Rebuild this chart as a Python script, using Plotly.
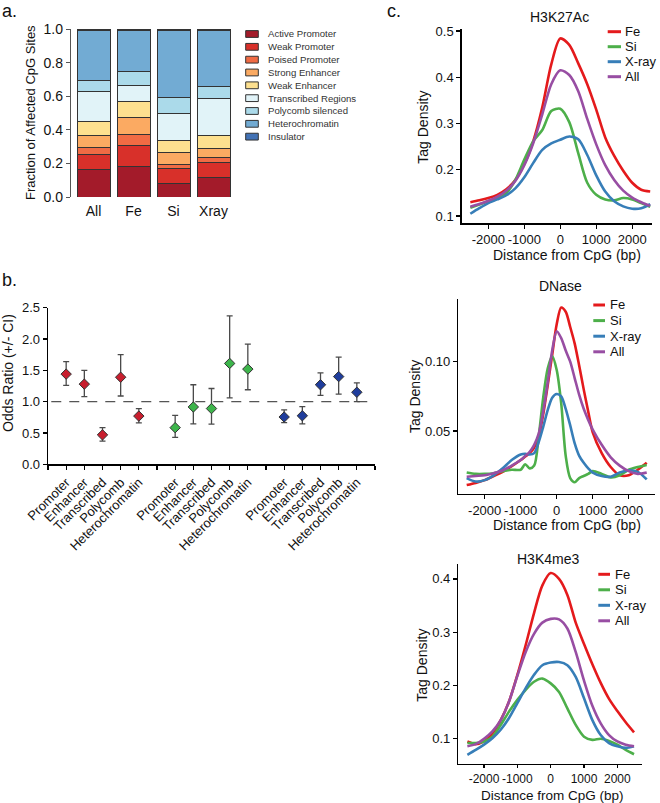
import plotly.graph_objects as go

W, H = 660, 803
FONT = "Liberation Sans, Arial, Helvetica, sans-serif"


def px(x):
    return x / W


def py(y):
    return 1 - y / H


# ---------------- Panel a data ----------------
groups_a = ["All", "Fe", "Si", "Xray"]
states = ["Active Promoter", "Weak Promoter", "Poised Promoter", "Strong Enhancer",
          "Weak Enhancer", "Transcribed Regions", "Polycomb silenced",
          "Heterochromatin", "Insulator"]
state_colors = ["#A31B2A", "#D8302A", "#F06B44", "#FBAA62", "#FDE08F",
                "#E1F3F8", "#ABDAEA", "#72ABD3", "#4272B5"]
frac_active_promoter = [0.164, 0.182, 0.078, 0.116]
frac_weak_promoter = [0.090, 0.124, 0.090, 0.090]
frac_poised_promoter = [0.042, 0.068, 0.026, 0.030]
frac_strong_enhancer = [0.072, 0.098, 0.068, 0.054]
frac_weak_enhancer = [0.084, 0.094, 0.074, 0.076]
frac_transcribed = [0.174, 0.096, 0.164, 0.218]
frac_polycomb = [0.068, 0.084, 0.094, 0.074]
frac_heterochromatin = [0.296, 0.244, 0.396, 0.336]
frac_insulator = [0.010, 0.010, 0.010, 0.006]
state_values = [frac_active_promoter, frac_weak_promoter, frac_poised_promoter,
                frac_strong_enhancer, frac_weak_enhancer, frac_transcribed,
                frac_polycomb, frac_heterochromatin, frac_insulator]
ticks_a = [0.0, 0.2, 0.4, 0.6, 0.8, 1.0]

# ---------------- Panel b data ----------------
groups_b = ["Fe", "Si", "X-ray"]
group_colors_b = ["#C81E2E", "#3DB54B", "#1F3D9C"]
categories_b = ["Promoter", "Enhancer", "Transcribed", "Polycomb", "Heterochromatin"]
fe_or = [1.44, 1.28, 0.47, 1.39, 0.77]
fe_lo = [1.26, 1.08, 0.37, 1.09, 0.66]
fe_hi = [1.64, 1.50, 0.585, 1.75, 0.89]
si_or = [0.585, 0.915, 0.89, 1.61, 1.52]
si_lo = [0.43, 0.645, 0.64, 1.06, 1.19]
si_hi = [0.78, 1.27, 1.21, 2.37, 1.92]
xr_or = [0.755, 0.775, 1.27, 1.40, 1.15]
xr_lo = [0.665, 0.645, 1.10, 1.12, 1.00]
xr_hi = [0.87, 0.92, 1.46, 1.71, 1.30]
or_values = [fe_or, si_or, xr_or]
or_lows = [fe_lo, si_lo, xr_lo]
or_highs = [fe_hi, si_hi, xr_hi]
reference_or = 1.0
ticks_b = [0.0, 0.5, 1.0, 1.5, 2.0, 2.5]

# ---------------- Panel c data ----------------
series_c = ["Fe", "Si", "X-ray", "All"]
series_colors_c = ["#E41A1C", "#4DAF4A", "#377EB8", "#984EA3"]
dist_tick_vals = [-2000, -1000, 0, 1000, 2000]
dist_tick_text = ["-2000", "-1000", "0", "1000", "2000"]

dist_h3k27ac = [-2500, -2250, -2000, -1750, -1500, -1250, -1000, -750, -500, -250, 0,
                250, 500, 750, 1000, 1250, 1500, 1750, 2000, 2250, 2500]
h3k27ac_fe = [0.130, 0.134, 0.139, 0.146, 0.158, 0.178, 0.212, 0.262, 0.335, 0.428, 0.484,
              0.470, 0.430, 0.385, 0.330, 0.270, 0.230, 0.198, 0.172, 0.157, 0.153]
h3k27ac_si = [0.118, 0.125, 0.132, 0.138, 0.150, 0.178, 0.222, 0.262, 0.286, 0.327, 0.332,
              0.303, 0.236, 0.172, 0.146, 0.136, 0.134, 0.139, 0.136, 0.128, 0.120]
h3k27ac_xray = [0.105, 0.117, 0.128, 0.136, 0.145, 0.160, 0.184, 0.215, 0.243, 0.257, 0.265,
                0.272, 0.266, 0.232, 0.188, 0.153, 0.132, 0.121, 0.116, 0.117, 0.126]
h3k27ac_all = [0.120, 0.126, 0.133, 0.142, 0.155, 0.176, 0.210, 0.258, 0.320, 0.385, 0.415,
               0.405, 0.370, 0.310, 0.255, 0.210, 0.178, 0.155, 0.140, 0.130, 0.122]
h3k27ac_ticks = [0.1, 0.2, 0.3, 0.4, 0.5]

dist_dnase = [-2500, -2250, -2000, -1750, -1500, -1250, -1000, -875, -750, -625, -500,
              -375, -250, -125, 0, 125, 250, 375, 500, 625, 750, 875, 1000, 1250, 1500,
              1750, 2000, 2250, 2500]
dnase_fe = [0.011, 0.0125, 0.0145, 0.0175, 0.0205, 0.0245, 0.029, 0.0315, 0.034, 0.038, 0.046,
            0.062, 0.083, 0.105, 0.127, 0.139, 0.136, 0.125, 0.113, 0.097, 0.080, 0.064, 0.049,
            0.034, 0.024, 0.018, 0.018, 0.022, 0.027]
dnase_si = [0.020, 0.019, 0.019, 0.0195, 0.021, 0.022, 0.022, 0.026, 0.023, 0.025, 0.046,
            0.074, 0.095, 0.104, 0.094, 0.070, 0.032, 0.016, 0.013, 0.016, 0.0175, 0.019, 0.021,
            0.019, 0.0165, 0.018, 0.022, 0.024, 0.0255]
dnase_xray = [0.016, 0.0135, 0.0145, 0.018, 0.023, 0.029, 0.033, 0.0335, 0.033, 0.034, 0.042,
              0.053, 0.065, 0.074, 0.0767, 0.075, 0.066, 0.054, 0.041, 0.032, 0.027, 0.023, 0.020,
              0.0175, 0.017, 0.020, 0.0215, 0.0205, 0.015]
dnase_all = [0.017, 0.0175, 0.018, 0.0195, 0.0215, 0.025, 0.029, 0.032, 0.035, 0.040, 0.048,
             0.064, 0.085, 0.108, 0.122, 0.117, 0.108, 0.100, 0.088, 0.076, 0.066, 0.058, 0.051,
             0.040, 0.031, 0.025, 0.021, 0.019, 0.020]
dnase_ticks = [0.05, 0.10]

dist_h3k4me3 = [-2500, -2250, -2000, -1750, -1500, -1250, -1000, -750, -500, -250, 0,
                250, 500, 750, 1000, 1250, 1500, 1750, 2000, 2250, 2500]
h3k4me3_fe = [0.095, 0.090, 0.095, 0.110, 0.135, 0.170, 0.220, 0.276, 0.336, 0.388, 0.411,
              0.400, 0.370, 0.318, 0.278, 0.240, 0.205, 0.175, 0.152, 0.131, 0.112]
h3k4me3_si = [0.092, 0.092, 0.095, 0.104, 0.126, 0.151, 0.173, 0.192, 0.207, 0.213, 0.204,
              0.188, 0.157, 0.126, 0.104, 0.098, 0.100, 0.096, 0.089, 0.079, 0.071]
h3k4me3_xray = [0.070, 0.079, 0.089, 0.101, 0.117, 0.139, 0.167, 0.195, 0.220, 0.238, 0.243,
                0.244, 0.238, 0.216, 0.176, 0.135, 0.107, 0.092, 0.086, 0.083, 0.086]
h3k4me3_all = [0.086, 0.090, 0.100, 0.114, 0.135, 0.170, 0.218, 0.263, 0.297, 0.318, 0.325,
               0.324, 0.307, 0.263, 0.209, 0.162, 0.129, 0.107, 0.095, 0.089, 0.086]
h3k4me3_ticks = [0.1, 0.2, 0.3, 0.4]

fig = go.Figure()

# ---------------- Panel a: stacked bars ----------------
for name, color, vals in zip(states, state_colors, state_values):
    fig.add_trace(go.Bar(
        x=groups_a, y=vals, name=name, showlegend=False,
        marker=dict(color=color, line=dict(color="#333333", width=1)),
        xaxis="x", yaxis="y"))

# ---------------- Panel b: odds ratios ----------------
ticktext_b = []
for g in range(len(groups_b)):
    ticktext_b.append("")
    for c in categories_b:
        ticktext_b.append(c)
ticktext_b.append("")
xpos_b_all = list(range(len(ticktext_b)))

for g, (gname, gcol) in enumerate(zip(groups_b, group_colors_b)):
    xs = [g * (len(categories_b) + 1) + 1 + i for i in range(len(categories_b))]
    vals = or_values[g]
    fig.add_trace(go.Scatter(
        x=xs, y=vals, mode="markers", showlegend=False, name=gname,
        marker=dict(symbol="diamond", size=8, color=gcol, line=dict(color="#333333", width=1)),
        error_y=dict(type="data", symmetric=False,
                     array=[h - v for h, v in zip(or_highs[g], vals)],
                     arrayminus=[v - l for l, v in zip(or_lows[g], vals)],
                     color="#4a4a4a", thickness=1.3, width=3),
        xaxis="x2", yaxis="y2", cliponaxis=False))

# ---------------- Panel c: tag density ----------------
panel_c = [
    ("x3", "y3", dist_h3k27ac, [h3k27ac_fe, h3k27ac_si, h3k27ac_xray, h3k27ac_all]),
    ("x4", "y4", dist_dnase, [dnase_fe, dnase_si, dnase_xray, dnase_all]),
    ("x5", "y5", dist_h3k4me3, [h3k4me3_fe, h3k4me3_si, h3k4me3_xray, h3k4me3_all]),
]
for xa, ya, xs, ser in panel_c:
    for name, col, ys in zip(series_c, series_colors_c, ser):
        fig.add_trace(go.Scatter(
            x=xs, y=ys, mode="lines", name=name, showlegend=False,
            line=dict(color=col, width=2.6, shape="spline", smoothing=0.8),
            xaxis=xa, yaxis=ya))

axis_common = dict(showgrid=False, zeroline=False, showline=True, linecolor="#000000",
                   linewidth=1.4, ticks="outside", tickcolor="#000000", ticklen=4,
                   tickwidth=1.2, automargin=False)
f13 = dict(size=13, color="#111111")
f12 = dict(size=12, color="#111111")

layout = dict(
    template="none",
    width=W, height=H, margin=dict(l=0, r=0, t=0, b=0, pad=0, autoexpand=False),
    paper_bgcolor="white", plot_bgcolor="white",
    font=dict(family=FONT, color="#111111"),
    barmode="stack", bargap=0.175, showlegend=False,
    xaxis=dict(domain=[px(71), px(238)], range=[-0.5625, 3.6125], anchor="y",
               showgrid=False, zeroline=False, showline=False, ticks="", automargin=False,
               tickfont=dict(size=14, color="#111111"), ticklabelstandoff=4),
    yaxis=dict(domain=[py(197), py(29)], range=[0, 1], anchor="x", automargin=False,
               showgrid=False, zeroline=False, showline=True, linecolor="#555555",
               linewidth=1.2, ticks="outside", ticklen=4, tickcolor="#555555",
               tickvals=ticks_a, tickformat=".1f", tickfont=dict(size=14, color="#111111")),
    xaxis2=dict(domain=[px(48), px(375)], range=[0, len(ticktext_b) - 1], anchor="y2",
                tickmode="array", tickvals=xpos_b_all, ticktext=ticktext_b, tickangle=-45,
                tickfont=f13, **axis_common),
    yaxis2=dict(domain=[py(464.3), py(307.7)], range=[0, 2.5], anchor="x2",
                tickvals=ticks_b, tickformat=".1f", tickfont=f13, **axis_common),
    xaxis3=dict(domain=[px(461.7), px(652)], range=[-2740, 2550], anchor="y3",
                tickmode="array", tickvals=dist_tick_vals, ticktext=dist_tick_text,
                tickangle=0, tickfont=f13, **axis_common),
    yaxis3=dict(domain=[py(223.3), py(29.3)], range=[0.0844, 0.5037], anchor="x3",
                tickvals=h3k27ac_ticks, tickformat=".1f", tickfont=f13, **axis_common),
    xaxis4=dict(domain=[px(458.3), px(655)], range=[-2733, 2730], anchor="y4",
                tickmode="array", tickvals=dist_tick_vals, ticktext=dist_tick_text,
                tickangle=0, tickfont=f13, **axis_common),
    yaxis4=dict(domain=[py(494), py(299.3)], range=[0.0045, 0.145], anchor="x4",
                tickvals=dnase_ticks, tickformat=".2f", tickfont=f13, **axis_common),
    xaxis5=dict(domain=[px(458.3), px(641.7)], range=[-2772, 2730], anchor="y5",
                tickmode="array", tickvals=dist_tick_vals, ticktext=dist_tick_text,
                tickangle=0, tickfont=f12, **{**axis_common, "ticklen": 3}),
    yaxis5=dict(domain=[py(764), py(564)], range=[0.0527, 0.428], anchor="x5",
                tickvals=h3k4me3_ticks, tickformat=".1f", tickfont=f13, **axis_common),
)
fig.update_layout(**layout)

shapes = []
annotations = []

# Reference line OR = 1
shapes.append(dict(type="line", xref="x2 domain", yref="y2", x0=0.01, x1=0.99,
                   y0=reference_or, y1=reference_or,
                   line=dict(color="#555555", width=1.4, dash="10px,8px"), layer="below"))

# Panel a legend
leg_a_top, leg_a_step = 34, 12.83
for i, (name, col) in enumerate(zip(states, state_colors)):
    yc = leg_a_top + i * leg_a_step
    shapes.append(dict(type="rect", xref="paper", yref="paper",
                       x0=px(245.7), x1=px(258.3), y0=py(yc + 3.4), y1=py(yc - 3.4),
                       fillcolor=col, line=dict(color="#333333", width=1)))
    annotations.append(dict(text=name, xref="paper", yref="paper", x=px(266), y=py(yc),
                            xanchor="left", yanchor="middle", showarrow=False,
                            font=dict(size=9.6, color="#333333")))

# Panel c legends
legend_c_pos = [  # (line x0, line x1, text x, first row y, row step)
    (607.7, 621, 623, 31.7, 15.0),
    (593.3, 605, 608, 305, 15.6),
    (598.3, 610, 613, 574.3, 15.5),
]
for lx0, lx1, tx, ry, rs in legend_c_pos:
    for i, (name, col) in enumerate(zip(series_c, series_colors_c)):
        yc = ry + i * rs
        shapes.append(dict(type="line", xref="paper", yref="paper", x0=px(lx0), x1=px(lx1),
                           y0=py(yc), y1=py(yc), line=dict(color=col, width=3)))
        annotations.append(dict(text=name, xref="paper", yref="paper", x=px(tx), y=py(yc),
                                xanchor="left", yanchor="middle", showarrow=False,
                                font=dict(size=13, color="#111111")))

# Panel c titles and axis titles
c_titles = [("H3K27Ac", 559, 17), ("DNase", 560, 286), ("H3K4me3", 548, 559)]
for t, x, y in c_titles:
    annotations.append(dict(text=t, xref="paper", yref="paper", x=px(x), y=py(y),
                            xanchor="center", yanchor="middle", showarrow=False,
                            font=dict(size=14, color="#111111")))
c_ytitles = [(422.7, 127), (415, 397), (421.7, 665)]
for x, y in c_ytitles:
    annotations.append(dict(text="Tag Density", xref="paper", yref="paper", x=px(x), y=py(y),
                            xanchor="center", yanchor="middle", showarrow=False, textangle=-90,
                            font=dict(size=14, color="#111111")))
c_xtitles = [(567, 255, 14), (567, 525, 14), (552, 795, 13.5)]
for x, y, fs in c_xtitles:
    annotations.append(dict(text="Distance from CpG (bp)", xref="paper", yref="paper",
                            x=px(x), y=py(y), xanchor="center", yanchor="middle",
                            showarrow=False, font=dict(size=fs, color="#111111")))

# Panel a / b axis titles
annotations.append(dict(text="Fraction of Affected CpG Sites", xref="paper", yref="paper",
                        x=px(30), y=py(113), xanchor="center", yanchor="middle",
                        showarrow=False, textangle=-90, font=dict(size=13, color="#111111")))
annotations.append(dict(text="Odds Ratio (+/- CI)", xref="paper", yref="paper",
                        x=px(8), y=py(373), xanchor="center", yanchor="middle",
                        showarrow=False, textangle=-90, font=dict(size=14, color="#111111")))

# Panel b group titles
group_title_x = [3, 8.7, 14.9]
for gname, gx in zip(groups_b, group_title_x):
    annotations.append(dict(text=gname, xref="x2", yref="y2", x=gx, y=2.7,
                            xanchor="center", yanchor="middle", showarrow=False,
                            font=dict(size=16, color="#111111")))

# Panel letters
for t, x, y in [("a.", 0, 11), ("b.", 0, 280), ("c.", 385, 11)]:
    annotations.append(dict(text=t, xref="paper", yref="paper", x=px(x), y=py(y),
                            xanchor="left", yanchor="middle", showarrow=False,
                            font=dict(size=18, color="#111111")))

fig.update_layout(shapes=shapes, annotations=annotations)
fig.write_html("out.html",
               config={"displayModeBar": False, "staticPlot": True},
               post_script="document.body.style.margin='0px';"
                           "document.body.style.overflow='hidden';")
